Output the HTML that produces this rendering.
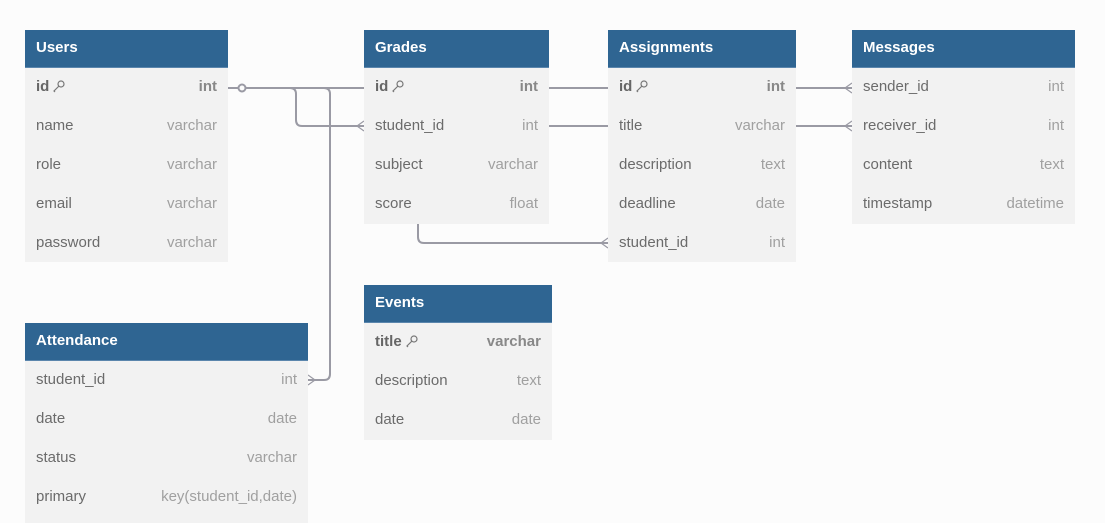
<!DOCTYPE html>
<html><head><meta charset="utf-8"><style>
body{margin:0;width:1105px;height:514px;background:#fcfcfc;position:relative;overflow:hidden;font-family:"Liberation Sans","DejaVu Sans",sans-serif;}
.t{position:absolute;background:#f2f2f2;}
.h{height:38px;background:#2f6592;color:#fff;font-weight:bold;font-size:15px;line-height:36px;padding-left:11px;border-bottom:1px solid #5b86ad;box-sizing:border-box;}
.r{height:39px;line-height:37px;font-size:15px;color:#6b6b6b;padding:0 11px;display:flex;justify-content:space-between;}
.r span:last-child{color:#a0a0a0;}
.r.k span{font-weight:bold;color:#666;}
.r.k span:last-child{color:#888;}
svg.key{vertical-align:-2px;margin-left:4px}
</style></head><body>
<svg width="1105" height="514" style="position:absolute;left:0;top:0" fill="none" stroke="#9a9aa4" stroke-width="2">
<path d="M228 88 H364"/>
<circle cx="242" cy="88" r="3.5" fill="#fcfcfc"/>
<path d="M290 88 Q296 88 296 94 V120 Q296 126 302 126 H364"/>
<path d="M364 121 L357 126 L364 131" stroke-width="1.2"/>
<path d="M324 88 Q330 88 330 94 V374 Q330 380 324 380 H308"/>
<path d="M308 375 L315 380 L308 385" stroke-width="1.2"/>
<path d="M549 88 H608"/><path d="M549 126 H608"/>
<path d="M796 88 H852"/><path d="M796 126 H852"/>
<path d="M852 83 L845 88 L852 93" stroke-width="1.2"/>
<path d="M852 121 L845 126 L852 131" stroke-width="1.2"/>
<path d="M418 224 V237 Q418 243 424 243 H608"/>
<path d="M608 238 L601 243 L608 248" stroke-width="1.2"/>
</svg>

<div class="t" style="left:25px;top:30px;width:203px;height:232px">
<div class="h">Users</div>
<div class="r k"><span>id<svg class="key" width="12" height="13" viewBox="0 0 12 13" fill="none" stroke="#777" stroke-width="1.2"><circle cx="8" cy="4" r="3"/><path d="M6 6 L1 11 L2 12"/></svg></span><span>int</span></div>
<div class="r"><span>name</span><span>varchar</span></div>
<div class="r"><span>role</span><span>varchar</span></div>
<div class="r"><span>email</span><span>varchar</span></div>
<div class="r"><span>password</span><span>varchar</span></div>
</div>

<div class="t" style="left:364px;top:30px;width:185px;height:194px">
<div class="h">Grades</div>
<div class="r k"><span>id<svg class="key" width="12" height="13" viewBox="0 0 12 13" fill="none" stroke="#777" stroke-width="1.2"><circle cx="8" cy="4" r="3"/><path d="M6 6 L1 11 L2 12"/></svg></span><span>int</span></div>
<div class="r"><span>student_id</span><span>int</span></div>
<div class="r"><span>subject</span><span>varchar</span></div>
<div class="r"><span>score</span><span>float</span></div>
</div>

<div class="t" style="left:608px;top:30px;width:188px;height:232px">
<div class="h">Assignments</div>
<div class="r k"><span>id<svg class="key" width="12" height="13" viewBox="0 0 12 13" fill="none" stroke="#777" stroke-width="1.2"><circle cx="8" cy="4" r="3"/><path d="M6 6 L1 11 L2 12"/></svg></span><span>int</span></div>
<div class="r"><span>title</span><span>varchar</span></div>
<div class="r"><span>description</span><span>text</span></div>
<div class="r"><span>deadline</span><span>date</span></div>
<div class="r"><span>student_id</span><span>int</span></div>
</div>

<div class="t" style="left:852px;top:30px;width:223px;height:194px">
<div class="h">Messages</div>
<div class="r"><span>sender_id</span><span>int</span></div>
<div class="r"><span>receiver_id</span><span>int</span></div>
<div class="r"><span>content</span><span>text</span></div>
<div class="r"><span>timestamp</span><span>datetime</span></div>
</div>

<div class="t" style="left:364px;top:285px;width:188px;height:155px">
<div class="h">Events</div>
<div class="r k"><span>title<svg class="key" width="12" height="13" viewBox="0 0 12 13" fill="none" stroke="#777" stroke-width="1.2"><circle cx="8" cy="4" r="3"/><path d="M6 6 L1 11 L2 12"/></svg></span><span>varchar</span></div>
<div class="r"><span>description</span><span>text</span></div>
<div class="r"><span>date</span><span>date</span></div>
</div>

<div class="t" style="left:25px;top:323px;width:283px;height:200px">
<div class="h">Attendance</div>
<div class="r"><span>student_id</span><span>int</span></div>
<div class="r"><span>date</span><span>date</span></div>
<div class="r"><span>status</span><span>varchar</span></div>
<div class="r"><span>primary</span><span>key(student_id,date)</span></div>
</div>
</body></html>
